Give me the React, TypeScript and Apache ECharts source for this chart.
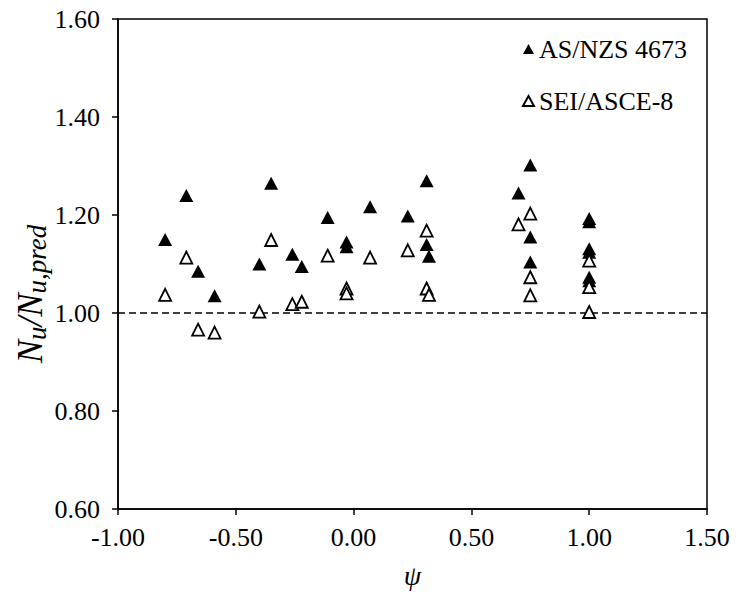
import React, { useEffect, useRef } from 'react';
import * as echarts from 'echarts';

// AS/NZS 4673 predictions (filled triangles)
const psiAS = [-0.8, -0.71, -0.66, -0.59, -0.4, -0.35, -0.26, -0.22, -0.11, -0.03, -0.03, 0.07, 0.23, 0.31, 0.31, 0.32, 0.7, 0.75, 0.75, 0.75, 1.0, 1.0, 1.0, 1.0, 1.0, 1.0];
const ratioAS = [1.15, 1.24, 1.085, 1.035, 1.1, 1.265, 1.12, 1.095, 1.195, 1.145, 1.135, 1.217, 1.198, 1.27, 1.14, 1.116, 1.245, 1.302, 1.155, 1.104, 1.193, 1.186, 1.131, 1.124, 1.073, 1.066];

// SEI/ASCE-8 predictions (open triangles)
const psiSEI = [-0.8, -0.71, -0.66, -0.59, -0.4, -0.35, -0.26, -0.22, -0.11, -0.03, -0.03, 0.07, 0.23, 0.31, 0.31, 0.32, 0.7, 0.75, 0.75, 0.75, 1.0, 1.0, 1.0];
const ratioSEI = [1.037, 1.113, 0.966, 0.96, 1.003, 1.149, 1.018, 1.023, 1.117, 1.05, 1.04, 1.113, 1.128, 1.168, 1.05, 1.037, 1.181, 1.203, 1.073, 1.036, 1.107, 1.053, 1.002];

// reference line Nu/Nu,pred = 1
const refPsi = [-1.0, 1.5];
const refRatio = [1.0, 1.0];

const xMin = -1.0, xMax = 1.5, xStep = 0.5;
const yMin = 0.6, yMax = 1.6, yStep = 0.2;

const FONT = '"Liberation Serif", "Times New Roman", serif';

export default function App() {
  const ref = useRef<HTMLDivElement>(null);
  useEffect(() => {
    document.body.style.margin = '0';
    const chart = echarts.init(ref.current!, null, { renderer: 'svg' });
    const zip = (a: number[], b: number[]) => a.map((v, i) => [v, b[i]]);
    chart.setOption({
      animation: false,
      backgroundColor: '#fff',
      grid: {
        left: 118, right: 29, top: 19, bottom: 85,
        show: true, borderColor: '#000', borderWidth: 1.5, backgroundColor: 'transparent',
      },
      graphic: [
        {
          type: 'text',
          x: 30,
          y: 294,
          rotation: Math.PI / 2,
          style: {
            text: '{n|N}{s|u}{n|/N}{s|u,pred}',
            align: 'center',
            verticalAlign: 'middle',
            fill: '#000',
            font: 'italic 35px ' + FONT,
            rich: {
              n: { fontFamily: FONT, fontStyle: 'italic', fontSize: 35, fill: '#000', lineHeight: 40 },
              s: { fontFamily: FONT, fontStyle: 'italic', fontSize: 27, fill: '#000', lineHeight: 40, verticalAlign: 'bottom' },
            },
          },
        },
      ],
      legend: {
        orient: 'vertical',
        left: 517,
        top: 31,
        itemGap: 26,
        itemWidth: 11,
        itemHeight: 10,
        textStyle: { fontFamily: FONT, fontSize: 26, color: '#000' },
        data: [
          { name: 'AS/NZS 4673', icon: 'triangle' },
          { name: 'SEI/ASCE-8', icon: 'triangle' },
        ],
      },
      xAxis: {
        type: 'value',
        min: xMin, max: xMax, interval: xStep,
        name: 'ψ',
        nameLocation: 'middle',
        nameGap: 52,
        nameTextStyle: { fontFamily: FONT, fontSize: 28, fontStyle: 'italic', color: '#000' },
        axisLine: { show: true, onZero: false, lineStyle: { color: '#000', width: 1.5 } },
        axisTick: { show: true, inside: false, length: 6, lineStyle: { color: '#000', width: 1.5 } },
        axisLabel: {
          fontFamily: FONT, fontSize: 26, color: '#000', margin: 15,
          formatter: (v: number) => v.toFixed(2),
        },
        splitLine: { show: false },
      },
      yAxis: {
        type: 'value',
        min: yMin, max: yMax, interval: yStep,
        axisLine: { show: true, onZero: false, lineStyle: { color: '#000', width: 1.5 } },
        axisTick: { show: true, inside: false, length: 6, lineStyle: { color: '#000', width: 1.5 } },
        axisLabel: {
          fontFamily: FONT, fontSize: 26, color: '#000', margin: 18,
          formatter: (v: number) => v.toFixed(2),
        },
        splitLine: { show: false },
      },
      series: [
        {
          name: 'reference',
          type: 'line',
          data: zip(refPsi, refRatio),
          symbol: 'none',
          silent: true,
          lineStyle: { color: '#000', width: 1.5, type: [7, 4] },
          z: 1,
        },
        {
          name: 'AS/NZS 4673',
          type: 'scatter',
          data: zip(psiAS, ratioAS),
          symbol: 'triangle',
          symbolSize: [14, 13],
          itemStyle: { color: '#000', opacity: 1 },
          z: 2,
        },
        {
          name: 'SEI/ASCE-8',
          type: 'scatter',
          data: zip(psiSEI, ratioSEI),
          symbol: 'triangle',
          symbolSize: [12, 12],
          itemStyle: { color: '#fff', borderColor: '#000', borderWidth: 1.8, opacity: 1 },
          z: 3,
        },
      ],
    });
    return () => chart.dispose();
  }, []);
  return <div ref={ref} style={{ width: 736, height: 594 }} />;
}
